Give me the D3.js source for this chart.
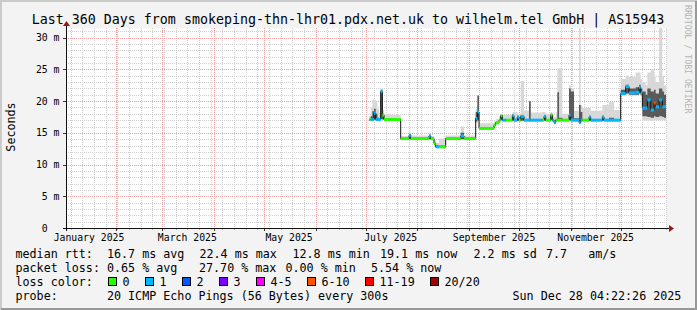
<!DOCTYPE html>
<html><head><meta charset="utf-8">
<script src="https://cdn.jsdelivr.net/npm/d3@7"></script>
<style>
html,body{margin:0;padding:0;background:#f3f3f3;}
svg{display:block;}
text{font-family:"DejaVu Sans Mono", monospace;}
</style></head><body>
<svg id="c" width="697" height="310"></svg>
<script>
// ---------- data ----------
const title = "Last 360 Days from smokeping-thn-lhr01.pdx.net.uk to wilhelm.tel GmbH | AS15943";
const yLabel = "Seconds";
const watermark = "RRDTOOL / TOBI OETIKER";
const startTime = "2025-01-02 04:22:26";
const endTime = "2025-12-28 04:22:26";
const yTicks = [0, 5, 10, 15, 20, 25, 30];
const yTickLabels = ["0  ", "5 m", "10 m", "15 m", "20 m", "25 m", "30 m"];
const monthLabels = ["January 2025", "March 2025", "May 2025", "July 2025", "September 2025", "November 2025"];
const monthLabelDates = ["2025-01-01", "2025-03-01", "2025-05-01", "2025-07-01", "2025-09-01", "2025-11-01"];

const dates = ["2025-07-03","2025-07-04","2025-07-05","2025-07-06","2025-07-07","2025-07-08","2025-07-09","2025-07-10","2025-07-11","2025-07-12",
  "2025-07-16","2025-07-22","2025-07-27","2025-07-28","2025-08-08","2025-08-09","2025-08-11","2025-08-12","2025-08-14","2025-08-18",
  "2025-08-27","2025-08-29","2025-09-05","2025-09-06","2025-09-07","2025-09-16","2025-09-17","2025-09-19","2025-09-20","2025-09-21",
  "2025-09-23","2025-09-27","2025-09-28","2025-09-30","2025-10-01","2025-10-02","2025-10-04","2025-10-07","2025-10-08","2025-10-15",
  "2025-10-16","2025-10-17","2025-10-20","2025-10-21","2025-10-22","2025-10-23","2025-10-24","2025-10-25","2025-10-27","2025-10-31",
  "2025-11-01","2025-11-03","2025-11-06","2025-11-07","2025-11-08","2025-11-12","2025-11-13","2025-11-20","2025-11-21","2025-11-24",
  "2025-11-27","2025-12-01","2025-12-04","2025-12-06","2025-12-10","2025-12-12","2025-12-13","2025-12-14","2025-12-16","2025-12-17",
  "2025-12-19","2025-12-21","2025-12-22","2025-12-24","2025-12-25","2025-12-26","2025-12-27"];
const medianMs = [17.1,17.1,17.1,18.1,17.1,17.1,17.1,21.5,17.8,17.1,
  17.1,14.1,14.6,14.1,14.5,14.1,13.3,12.8,12.8,14.1,
  14.5,14.1,17.3,18.3,15.7,16.2,16.6,17.0,17.7,17.0,
  17.0,17.7,17.0,17.5,17.0,17.6,17.0,17.0,17.0,17.0,
  17.6,17.0,17.8,17.0,16.6,17.0,17.0,17.0,17.0,17.8,
  17.0,17.0,16.6,17.0,17.0,17.5,17.0,17.5,17.0,17.0,
  17.0,21.2,22.3,21.3,21.4,22.2,21.3,18.9,18.9,20.2,
  18.6,19.7,19.1,20.2,20.2,19.1,19.1];
const lossCount = [0,1,1,1,1,1,1,1,0,0,
  0,0,1,0,1,0,0,1,0,0,
  1,0,1,1,0,0,0,0,0,1,
  0,1,1,1,0,1,1,1,1,0,
  1,0,0,1,1,0,0,0,0,1,
  1,1,1,1,0,1,1,1,1,1,
  1,1,1,1,1,1,1,1,1,1,
  1,7,1,1,1,1,1];
const smokeLo = [16.9,16.9,16.9,17.0,16.9,16.9,16.9,17.0,17.0,16.9,
  16.9,13.9,13.9,13.9,13.9,13.9,13.0,12.6,12.6,13.9,
  13.9,13.9,16.5,16.8,15.5,16.0,16.4,16.8,16.9,16.8,
  16.8,16.8,16.8,16.8,16.8,16.8,16.8,16.8,16.8,16.8,
  16.8,16.8,16.9,16.8,16.4,16.8,16.8,16.8,16.8,16.9,
  16.8,16.8,16.4,16.8,16.8,16.8,16.8,16.8,16.8,16.8,
  16.8,20.9,21.0,20.9,20.9,21.0,20.8,17.0,17.0,17.0,
  16.9,17.0,17.0,17.0,17.0,17.0,17.0];
const smokeHi = [17.6,19.0,20.2,20.2,20.0,18.8,18.2,22.0,18.6,18.0,
  17.8,14.5,15.2,14.6,15.0,14.5,13.9,13.4,14.1,14.6,
  16.0,14.6,18.8,20.9,16.5,16.8,17.2,17.6,18.0,17.8,
  17.8,18.3,18.3,18.0,18.0,23.2,18.5,20.0,18.2,18.3,
  18.3,18.0,18.3,17.8,17.5,18.2,25.2,25.2,18.0,22.5,
  22.0,18.5,31.6,19.4,18.9,18.9,18.5,19.4,19.4,19.9,
  18.6,23.5,24.0,23.8,24.5,24.5,23.5,23.0,22.5,24.5,
  25.0,24.0,23.0,31.6,31.6,24.0,22.5];
const coreLo = [17.0,17.0,17.0,17.1,17.0,17.0,17.0,17.2,17.1,17.0,
  17.0,14.0,14.0,14.0,14.0,14.0,13.1,12.7,12.7,14.0,
  14.0,14.0,16.8,17.0,15.6,16.1,16.5,16.9,17.0,16.9,
  16.9,16.9,16.9,16.9,16.9,16.9,16.9,16.9,16.9,16.9,
  16.9,16.9,17.0,16.9,16.5,16.9,16.9,16.9,16.9,17.0,
  16.9,16.9,16.5,16.9,16.9,16.9,16.9,16.9,16.9,16.9,
  16.9,21.0,21.2,21.0,21.0,21.2,21.0,17.6,17.6,17.5,
  17.4,17.6,17.5,17.6,17.6,17.5,17.4];
const coreHi = [17.2,17.6,18.4,18.8,18.0,17.4,17.3,21.8,18.0,17.3,
  17.2,14.2,14.8,14.2,14.7,14.2,13.5,13.0,13.0,14.2,
  15.0,14.2,18.3,20.9,15.8,16.3,16.7,17.1,17.8,17.2,
  17.1,17.9,17.2,17.7,17.2,17.8,17.2,20.0,17.2,17.2,
  17.8,17.2,18.0,17.1,16.8,17.2,21.4,17.4,17.2,22.0,
  21.5,17.3,19.4,18.3,17.2,17.7,17.2,17.7,17.2,17.4,
  17.2,21.8,22.6,22.0,22.2,22.6,22.0,21.5,21.0,22.0,
  21.5,21.8,21.2,22.0,22.0,21.5,21.0];

const lossLabels = ["0", "1", "2", "3", "4-5", "6-10", "11-19", "20/20"];
const lossUpper = [0, 1, 2, 3, 5, 10, 19, 20];
const lossColors = ["#26ff00", "#00b8ff", "#0059ff", "#7e00ff", "#ff00ff", "#ff5500", "#ff0000", "#a10000"];

const legendMedian = ["median rtt:  16.7 ms avg", "22.4 ms max", "12.8 ms min", "19.1 ms now", "2.2 ms sd", "7.7   am/s"];
const legendLoss = ["packet loss: 0.65 % avg", "27.70 % max", "0.00 % min", "5.54 % now"];
const legendLossTitle = "loss color:";
const probeText = "probe:       20 ICMP Echo Pings (56 Bytes) every 300s";
const stampText = "Sun Dec 28 04:22:26 2025";

// ---------- layout ----------
const W = 697, H = 310;
const X0 = 66, X1 = 666, Y0 = 228, Y1 = 28;
const svg = d3.select("#c");
const nb = s => s.replace(/ /g, "\u00a0");
const parseT = d3.timeParse("%Y-%m-%d %H:%M:%S");
const parseD = d3.timeParse("%Y-%m-%d");
const tStart = parseT(startTime), tEnd = parseT(endTime);
const x = d3.scaleTime().domain([tStart, tEnd]).range([X0, X1]);
const yMax = 31.53;
const y = d3.scaleLinear().domain([0, yMax]).range([Y0, Y1]);

// background & border
svg.append("rect").attr("width", W).attr("height", H).attr("fill", "#f3f3f3");
svg.append("path").attr("d", `M1,${H} V1 H${W}`).attr("fill", "none").attr("stroke", "#cbcbcb").attr("stroke-width", 2);
svg.append("path").attr("d", `M1,${H-1} H${W-1} V1`).attr("fill", "none").attr("stroke", "#999999").attr("stroke-width", 2);
svg.append("rect").attr("x", X0).attr("y", Y1).attr("width", X1 - X0).attr("height", Y0 - Y1).attr("fill", "#ffffff");

// grid
const g = svg.append("g");
const px = v => Math.round(v) + 0.5;
const minorY = d3.range(0, 32, 1).filter(v => v % 5 !== 0);
g.selectAll(".hmin").data(minorY).join("line")
  .attr("x1", X0).attr("x2", X1).attr("y1", d => px(y(d))).attr("y2", d => px(y(d)))
  .attr("stroke", "#cfcfcf").attr("stroke-dasharray", "1,1");
const weeks = d3.timeSunday.range(tStart, tEnd).filter(d => d.getDate() !== 1);
g.selectAll(".vmin").data(weeks).join("line")
  .attr("y1", Y1).attr("y2", Y0).attr("x1", d => px(x(d))).attr("x2", d => px(x(d)))
  .attr("stroke", "#cfcfcf").attr("stroke-dasharray", "1,1");
g.selectAll(".hmaj").data(yTicks.filter(v => v > 0)).join("line")
  .attr("x1", X0).attr("x2", X1).attr("y1", d => px(y(d))).attr("y2", d => px(y(d)))
  .attr("stroke", "#f0a0a0").attr("stroke-dasharray", "1,1");
const months = d3.timeMonth.range(d3.timeMonth.ceil(tStart), tEnd);
g.selectAll(".vmaj").data(months).join("line")
  .attr("y1", Y1).attr("y2", Y0).attr("x1", d => px(x(d))).attr("x2", d => px(x(d)))
  .attr("stroke", "#f0a0a0").attr("stroke-dasharray", "1,1");

// data rows
const rows = dates.map((d, i) => ({
  t: parseD(d), med: medianMs[i], loss: lossCount[i],
  lo: smokeLo[i], hi: smokeHi[i], clo: coreLo[i], chi: coreHi[i]
}));
const ext = rows.concat([Object.assign({}, rows[rows.length - 1], { t: tEnd })]);

const plot = svg.append("g");
plot.append("clipPath").attr("id", "clip").append("rect")
  .attr("x", X0).attr("y", Y1).attr("width", X1 - X0).attr("height", Y0 - Y1);
const pg = plot.append("g").attr("clip-path", "url(#clip)");

const areaOuter = d3.area().curve(d3.curveStepAfter).x(d => x(d.t)).y0(d => y(d.lo)).y1(d => y(Math.min(d.hi, yMax)));
const areaCore = d3.area().curve(d3.curveStepAfter).x(d => x(d.t)).y0(d => y(d.clo)).y1(d => y(d.chi));
pg.append("path").datum(ext).attr("d", areaOuter).attr("fill", "#d8d8d8");
pg.append("path").datum(ext).attr("d", areaCore).attr("fill", "#5a5a5a");

const medLine = d3.line().curve(d3.curveStepAfter).x(d => x(d.t)).y(d => y(d.med));
pg.append("path").datum(ext).attr("d", medLine).attr("fill", "none").attr("stroke", "#111").attr("stroke-width", 1);

const lossClass = n => lossUpper.findIndex(u => n <= u);
pg.selectAll(".band").data(rows).join("rect")
  .attr("x", (d, i) => x(d.t))
  .attr("width", (d, i) => x(ext[i + 1].t) - x(d.t))
  .attr("y", d => y(d.med) - 1.5).attr("height", 3)
  .attr("fill", d => lossColors[lossClass(d.loss)]);

// axes
const ax = svg.append("g");
ax.selectAll(".ytk").data(yTicks).join("line")
  .attr("x1", X0 - 3).attr("x2", X0).attr("y1", d => px(y(d))).attr("y2", d => px(y(d)))
  .attr("stroke", "#333");
ax.selectAll(".xtk").data(months).join("line")
  .attr("x1", d => px(x(d))).attr("x2", d => px(x(d))).attr("y1", Y0).attr("y2", Y0 + 3)
  .attr("stroke", "#333");
ax.selectAll(".xtkm").data(weeks).join("line")
  .attr("x1", d => px(x(d))).attr("x2", d => px(x(d))).attr("y1", Y0).attr("y2", Y0 + 1.5)
  .attr("stroke", "#777");
ax.append("line").attr("x1", X0 - 3).attr("x2", 669).attr("y1", Y0 + 0.5).attr("y2", Y0 + 0.5).attr("stroke", "#111");
ax.append("line").attr("x1", X0 + 0.5).attr("x2", X0 + 0.5).attr("y1", Y0 + 3).attr("y2", 26).attr("stroke", "#111");
ax.append("path").attr("d", "M669,225 L674,228.5 L669,232 Z").attr("fill", "#9a1818");
ax.append("path").attr("d", "M63,26 L70,26 L66.5,21 Z").attr("fill", "#9a1818");

ax.selectAll(".ytl").data(yTicks).join("text")
  .attr("x", 59.5).attr("y", d => y(d) + 3.5).attr("text-anchor", "end")
  .attr("font-size", "9.8px").attr("fill", "#000")
  .text((d, i) => nb(yTickLabels[i]));
ax.selectAll(".xtl").data(monthLabelDates).join("text")
  .attr("x", d => x(d3.timeDay.offset(parseD(d), 15))).attr("y", 240.5).attr("text-anchor", "middle")
  .attr("font-size", "9.8px").attr("fill", "#000")
  .text((d, i) => monthLabels[i]);

// title & labels
svg.append("text").attr("x", 348).attr("y", 23.5).attr("text-anchor", "middle")
  .attr("font-size", "13.3px").attr("fill", "#000").text(title);
svg.append("text").attr("transform", "translate(15,127) rotate(-90)").attr("text-anchor", "middle")
  .attr("font-size", "11.7px").attr("fill", "#000").text(yLabel);
svg.append("text").attr("transform", "translate(685,5) rotate(90)")
  .attr("font-size", "8.2px").attr("fill", "#b4b4b4").text(watermark);

// legend
const lg = svg.append("g").attr("font-size", "11.7px").attr("fill", "#000");
const medX = [15.5, 199.5, 292.5, 380, 473.5, 546];
lg.selectAll(".lm").data(legendMedian).join("text").attr("x", (d, i) => medX[i]).attr("y", 258.4).text(d => nb(d));
const lossX = [15.5, 199, 285.5, 371];
lg.selectAll(".ll").data(legendLoss).join("text").attr("x", (d, i) => lossX[i]).attr("y", 272.4).text(d => nb(d));
lg.append("text").attr("x", 15.5).attr("y", 286.2).text(nb(legendLossTitle));
const boxX = [108.5, 145.5, 182.5, 219.5, 256.5, 307.5, 365.5, 430.5];
lg.selectAll(".lb").data(lossColors).join("rect")
  .attr("x", (d, i) => boxX[i]).attr("y", 277.5).attr("width", 8).attr("height", 8)
  .attr("fill", d => d).attr("stroke", "#000").attr("stroke-width", 1);
lg.selectAll(".lt").data(lossLabels).join("text")
  .attr("x", (d, i) => boxX[i] + 14).attr("y", 286.2).text(d => d);
lg.append("text").attr("x", 15.5).attr("y", 300).text(nb(probeText));
lg.append("text").attr("x", 512.5).attr("y", 300).text(nb(stampText));
</script>
</body></html>
